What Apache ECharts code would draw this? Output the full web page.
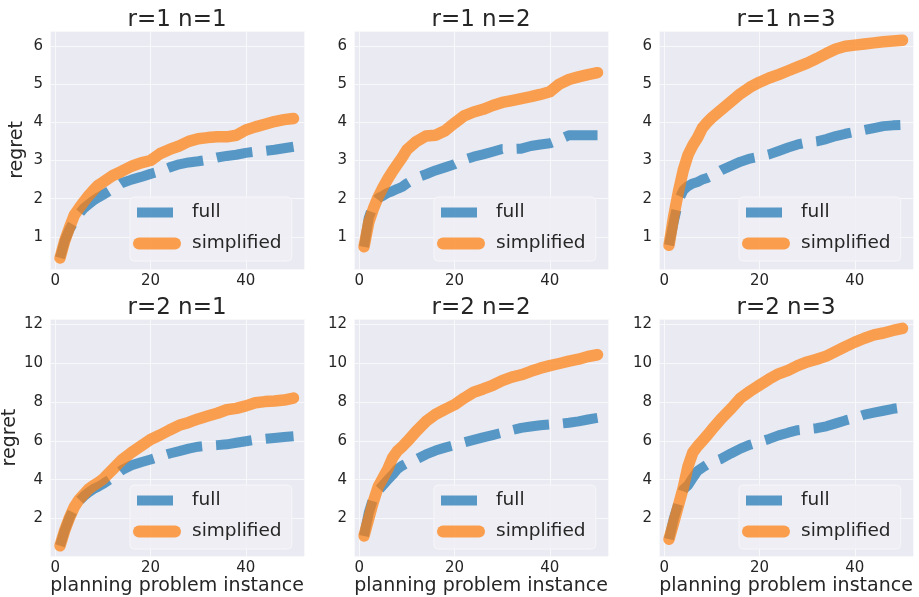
<!DOCTYPE html>
<html>
<head>
<meta charset="utf-8">
<script src="https://cdn.jsdelivr.net/npm/echarts@6/dist/echarts.min.js"></script>
<style>
  html, body { margin: 0; padding: 0; background: #fff; }
  #chart { width: 919px; height: 597px; }
</style>
</head>
<body>
<div id="chart"></div>
<script>
// x positions (planning problem instance) shared by every panel
const xs = [1, 2, 3, 4, 5, 6, 7, 8, 9, 10, 12, 14, 16, 18, 20, 22, 24, 26, 28, 30, 32, 34, 36, 38, 40, 42, 44, 46, 48, 50];

// r=1
const r1n1Full = [0.45, 0.9, 1.2, 1.42, 1.6, 1.75, 1.85, 1.95, 2.03, 2.1, 2.25, 2.41, 2.5, 2.57, 2.65, 2.72, 2.82, 2.9, 2.95, 2.98, 3.02, 3.08, 3.12, 3.15, 3.2, 3.23, 3.25, 3.28, 3.32, 3.36];
const r1n1Simplified = [0.45, 0.9, 1.25, 1.57, 1.75, 1.92, 2.08, 2.22, 2.35, 2.43, 2.6, 2.72, 2.85, 2.94, 3.0, 3.18, 3.29, 3.38, 3.5, 3.57, 3.6, 3.62, 3.62, 3.66, 3.8, 3.88, 3.95, 4.02, 4.07, 4.1];
const r1n2Full = [0.74, 1.5, 1.85, 2.02, 2.08, 2.15, 2.2, 2.26, 2.31, 2.4, 2.55, 2.64, 2.74, 2.82, 2.9, 3.02, 3.1, 3.16, 3.23, 3.3, 3.3, 3.31, 3.38, 3.42, 3.45, 3.55, 3.66, 3.66, 3.66, 3.66];
const r1n2Simplified = [0.74, 1.38, 1.75, 2.05, 2.3, 2.52, 2.72, 2.9, 3.08, 3.28, 3.5, 3.64, 3.66, 3.78, 3.98, 4.17, 4.27, 4.34, 4.44, 4.52, 4.57, 4.62, 4.67, 4.73, 4.8, 5.0, 5.12, 5.19, 5.25, 5.3];
const r1n3Full = [0.78, 1.4, 1.95, 2.22, 2.33, 2.4, 2.44, 2.5, 2.54, 2.6, 2.75, 2.86, 2.97, 3.05, 3.1, 3.16, 3.25, 3.34, 3.42, 3.47, 3.5, 3.56, 3.64, 3.7, 3.75, 3.8, 3.85, 3.9, 3.92, 3.93];
const r1n3Simplified = [0.78, 1.55, 2.2, 2.75, 3.15, 3.4, 3.6, 3.85, 4.0, 4.12, 4.33, 4.54, 4.75, 4.92, 5.05, 5.16, 5.25, 5.35, 5.45, 5.55, 5.67, 5.8, 5.92, 5.99, 6.02, 6.05, 6.08, 6.11, 6.13, 6.15];

// r=2
const r2n1Full = [0.6, 1.4, 2.05, 2.55, 2.9, 3.15, 3.35, 3.52, 3.64, 3.78, 4.1, 4.5, 4.74, 4.9, 5.04, 5.2, 5.35, 5.47, 5.6, 5.7, 5.75, 5.78, 5.82, 5.9, 5.98, 6.06, 6.1, 6.15, 6.2, 6.24];
const r2n1Simplified = [0.6, 1.4, 2.05, 2.6, 2.98, 3.25, 3.52, 3.7, 3.85, 4.02, 4.52, 5.02, 5.4, 5.74, 6.07, 6.3, 6.56, 6.8, 6.95, 7.13, 7.28, 7.42, 7.6, 7.67, 7.8, 7.96, 8.02, 8.05, 8.1, 8.2];
const r2n2Full = [1.11, 2.3, 3.1, 3.45, 3.72, 4.0, 4.25, 4.55, 4.72, 4.85, 5.05, 5.3, 5.5, 5.65, 5.78, 5.92, 6.05, 6.18, 6.3, 6.42, 6.55, 6.67, 6.74, 6.8, 6.84, 6.88, 6.93, 7.0, 7.1, 7.18];
const r2n2Simplified = [1.11, 2.0, 2.9, 3.65, 4.1, 4.55, 5.13, 5.48, 5.7, 5.95, 6.5, 7.0, 7.36, 7.62, 7.86, 8.2, 8.5, 8.67, 8.86, 9.1, 9.28, 9.4, 9.58, 9.74, 9.87, 9.98, 10.1, 10.2, 10.34, 10.43];
const r2n3Full = [0.94, 2.0, 2.8, 3.5, 3.72, 4.1, 4.45, 4.62, 4.78, 4.9, 5.08, 5.35, 5.6, 5.8, 5.95, 6.1, 6.28, 6.42, 6.55, 6.6, 6.65, 6.75, 6.9, 7.05, 7.18, 7.35, 7.45, 7.55, 7.65, 7.72];
const r2n3Simplified = [0.94, 1.8, 2.7, 3.6, 4.7, 5.4, 5.73, 6.0, 6.28, 6.58, 7.15, 7.65, 8.2, 8.55, 8.87, 9.18, 9.45, 9.63, 9.87, 10.06, 10.2, 10.36, 10.6, 10.85, 11.08, 11.28, 11.45, 11.55, 11.68, 11.79];

const panelTitles = ['r=1 n=1', 'r=1 n=2', 'r=1 n=3', 'r=2 n=1', 'r=2 n=2', 'r=2 n=3'];
const fullSets = [r1n1Full, r1n2Full, r1n3Full, r2n1Full, r2n2Full, r2n3Full];
const simplifiedSets = [r1n1Simplified, r1n2Simplified, r1n3Simplified, r2n1Simplified, r2n2Simplified, r2n3Simplified];

// layout
const colLeft = [50, 354, 659];
const rowTop = [31, 319];
const plotW = 254, plotH = 238;
const yRange = [[0.16, 6.39], [0.07, 12.27]];
const FONT = 'DejaVu Sans';
const TEXT = '#262626';
const BLUE = 'rgba(31,119,180,0.72)';
const ORANGE = 'rgba(255,127,14,0.72)';

const fullIcon = 'path://M0,0 M5,1H41V11H5Z M55,12';
const simplifiedIcon = 'path://M7,0H43A6,6,0,0,1,43,12H7A6,6,0,0,1,7,0Z M0,0 M55,12';

const pairs = ys => xs.map((x, i) => [x, ys[i]]);

const grid = [], xAxis = [], yAxis = [], series = [], title = [], legend = [];

panelTitles.forEach((name, i) => {
  const row = Math.floor(i / 3), col = i % 3;
  const left = colLeft[col], top = rowTop[row];

  grid.push({
    left: left, top: top, width: plotW, height: plotH,
    show: true, backgroundColor: '#EAEAF2', borderWidth: 0
  });

  xAxis.push({
    type: 'value', gridIndex: i, min: -1.1, max: 52.2, splitNumber: 3,
    axisLine: { show: false }, axisTick: { show: false },
    axisLabel: { color: TEXT, fontFamily: FONT, fontSize: 15, margin: 5, showMinLabel: false, showMaxLabel: false },
    splitLine: { lineStyle: { color: '#f8f8fb', width: 1 } },
    name: row === 1 ? 'planning problem instance' : '',
    nameLocation: 'middle', nameGap: 20,
    nameTextStyle: { color: TEXT, fontFamily: FONT, fontSize: 19 }
  });

  yAxis.push({
    type: 'value', gridIndex: i, min: yRange[row][0], max: yRange[row][1], splitNumber: 5,
    axisLine: { show: false }, axisTick: { show: false },
    axisLabel: { color: TEXT, fontFamily: FONT, fontSize: 15, margin: 7, showMinLabel: false, showMaxLabel: false },
    splitLine: { lineStyle: { color: '#f8f8fb', width: 1 } },
    name: col === 0 ? 'regret' : '',
    nameLocation: 'middle', nameGap: 23,
    nameTextStyle: { color: TEXT, fontFamily: FONT, fontSize: 19 }
  });

  title.push({
    text: name, left: left + plotW / 2, top: top - 22, textAlign: 'center',
    textStyle: { color: TEXT, fontFamily: FONT, fontSize: 23, fontWeight: 'normal' },
    padding: 0
  });

  series.push({
    name: 'full', type: 'line', xAxisIndex: i, yAxisIndex: i,
    data: pairs(fullSets[i]), symbol: 'none', smooth: false,
    color: BLUE,
    lineStyle: { color: BLUE, width: 10, type: [36, 14], cap: 'butt' },
    z: 2
  });
  series.push({
    name: 'simplified', type: 'line', xAxisIndex: i, yAxisIndex: i,
    data: pairs(simplifiedSets[i]), symbol: 'none', smooth: false,
    color: ORANGE,
    lineStyle: { color: ORANGE, width: 11.5, cap: 'round', join: 'round' },
    z: 3
  });

  legend.push({
    orient: 'vertical', left: left + 80, top: top + 166,
    itemWidth: 55, itemHeight: 12, itemGap: 12,
    padding: [6, 10, 8, 2],
    backgroundColor: 'rgba(238,238,245,0.85)',
    borderColor: '#f6f6fa', borderWidth: 1, borderRadius: 4,
    textStyle: { color: TEXT, fontFamily: FONT, fontSize: 18.5 },
    selectedMode: false,
    data: [
      { name: 'full', icon: fullIcon, itemStyle: { color: BLUE } },
      { name: 'simplified', icon: simplifiedIcon, itemStyle: { color: ORANGE } }
    ]
  });
});

const chart = echarts.init(document.getElementById('chart'), null, { renderer: 'canvas' });
chart.setOption({
  animation: false,
  backgroundColor: '#ffffff',
  title, grid, xAxis, yAxis, legend, series
});
</script>
</body>
</html>
